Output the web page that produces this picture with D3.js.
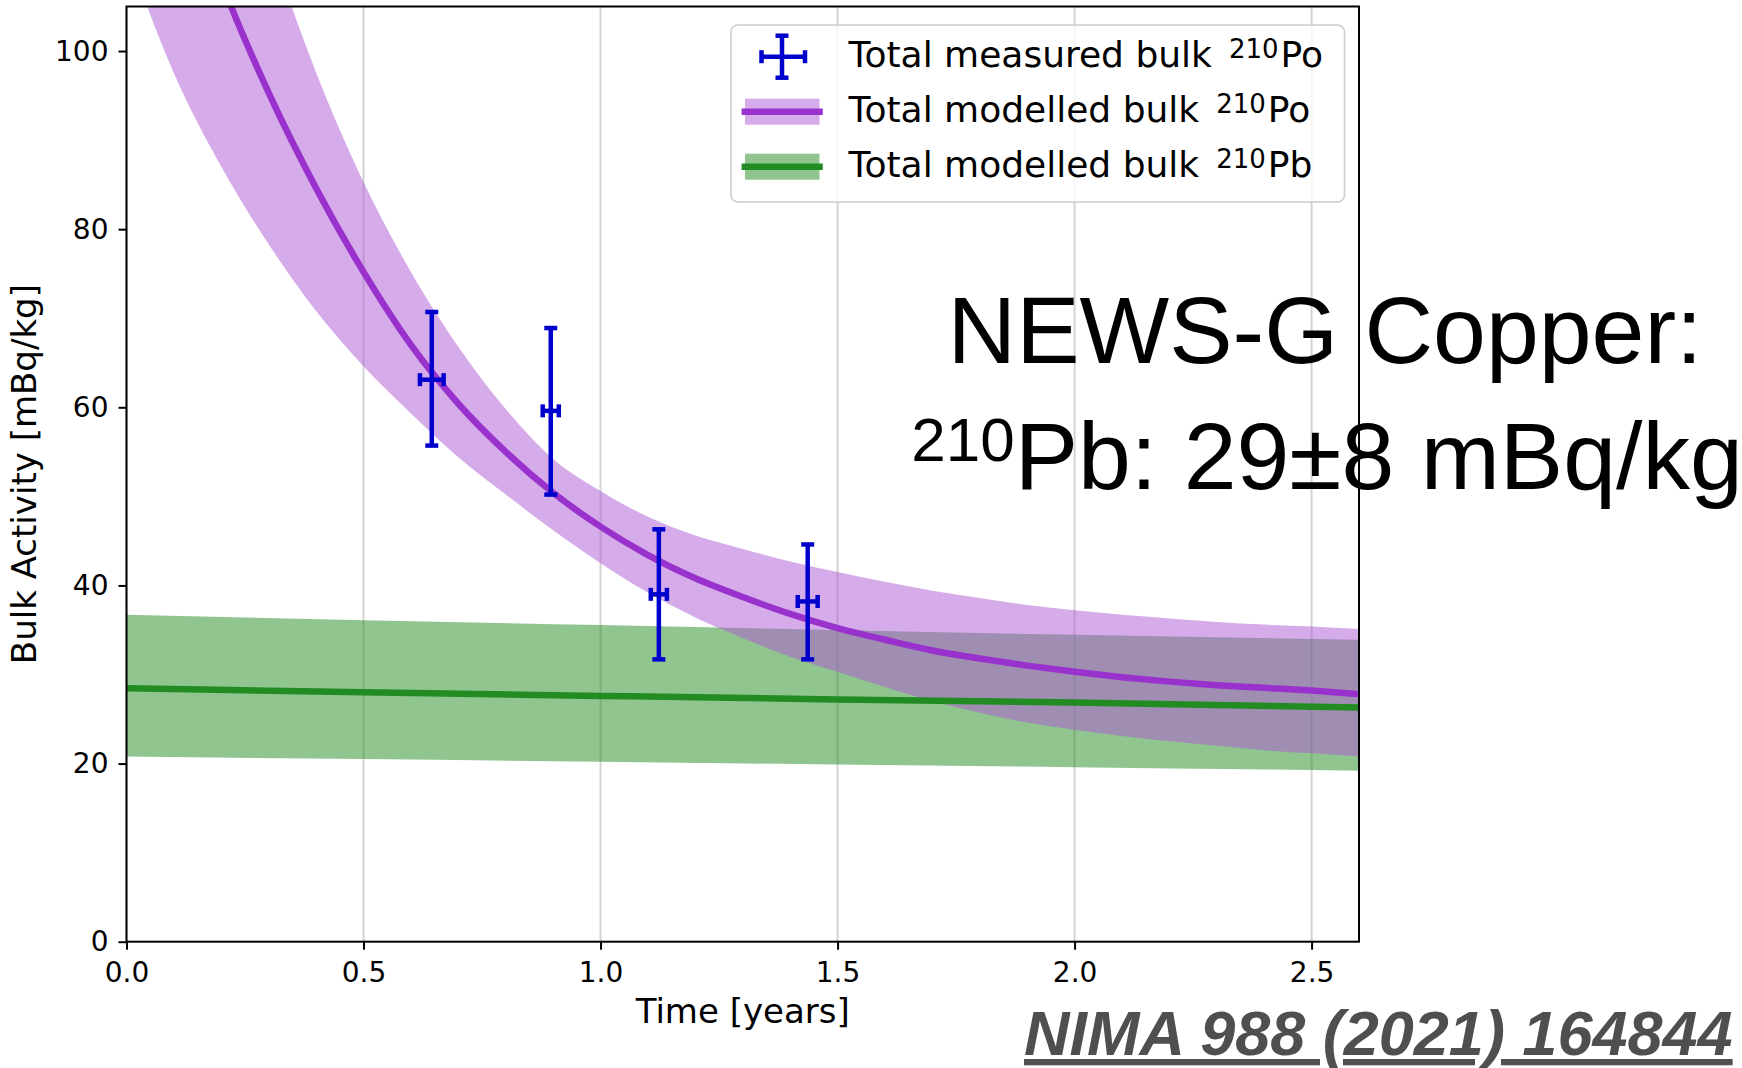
<!DOCTYPE html>
<html>
<head>
<meta charset="utf-8">
<script src="https://cdn.jsdelivr.net/npm/d3@7"></script>
<style>
  body { margin: 0; background: #fff; }
  text { font-family: "DejaVu Sans", sans-serif; }
</style>
</head>
<body>
<div id="container"></div>
<script>
const w = 1742;
const h = 1068;
const p = {left: 126.5, top: 6.5, right: 1359, bottom: 941.7};

// modelled bulk Po-210, every 0.1 year
const modelTime = [0, 0.1, 0.2, 0.3, 0.4, 0.5, 0.6, 0.7, 0.8, 0.9, 1.0, 1.1, 1.2, 1.3,
  1.4, 1.5, 1.6, 1.7, 1.8, 1.9, 2.0, 2.1, 2.2, 2.3, 2.4, 2.5, 2.6];
const poCentral = [142, 123.5, 107.8, 95.3, 84.6, 75.2, 67.0, 60.4, 55.0, 50.4, 46.6, 43.4, 40.8, 38.7,
  36.8, 35.2, 33.9, 32.7, 31.8, 31.0, 30.3, 29.7, 29.2, 28.8, 28.5, 28.2, 27.8];
const poUpper = [177, 151, 130, 112.5, 97.6, 85.3, 75.2, 66.8, 59.8, 54.2, 50.6, 47.7, 45.6, 44.1,
  42.7, 41.5, 40.4, 39.4, 38.6, 37.8, 37.2, 36.7, 36.3, 35.9, 35.6, 35.4, 35.1];
const poLower = [111.3, 97.5, 87.0, 78.3, 70.8, 64.6, 59.3, 54.4, 50.2, 46.2, 42.5, 39.2, 36.4, 34.1,
  32.0, 30.3, 28.6, 27.0, 25.7, 24.6, 23.8, 23.1, 22.5, 22.0, 21.5, 21.15, 20.8];

// modelled bulk Pb-210
const pbTime = [0, 0.5, 1.0, 1.5, 2.0, 2.6];
const pbCentral = [28.45, 28.0, 27.6, 27.2, 26.85, 26.3];
const pbUpper = [36.7, 36.1, 35.55, 35.0, 34.45, 33.9];
const pbLower = [20.8, 20.5, 20.2, 19.9, 19.6, 19.2];

// measured bulk Po-210
const measTime = [0.644, 0.895, 1.123, 1.437];
const measTimeErr = [0.025, 0.017, 0.017, 0.021];
const measValue = [63.1, 59.6, 39.0, 38.2];
const measLow = [55.7, 50.2, 31.7, 31.7];
const measHigh = [70.7, 68.9, 46.3, 44.6];

const xTicks = [0, 0.5, 1.0, 1.5, 2.0, 2.5];
const yTicks = [0, 20, 40, 60, 80, 100];

const legendLabels = ['Total measured bulk', 'Total modelled bulk', 'Total modelled bulk'];
const legendIso = ['Po', 'Po', 'Pb'];

const purple = '#9932cc';
const purpleBand = '#ad57d3';
const green = '#228b22';
const blue = '#0000cd';

const svg = d3.select('#container')
  .append('svg')
  .attr('width', w)
  .attr('height', h)
  .attr('viewBox', [0, 0, w, h]);

const x = d3.scaleLinear().domain([0, 2.6]).range([p.left, p.right]);
const y = d3.scaleLinear().domain([0, 105]).range([p.bottom, p.top]);

svg.append('clipPath')
  .attr('id', 'clip')
  .append('rect')
  .attr('x', p.left)
  .attr('y', p.top)
  .attr('width', p.right - p.left)
  .attr('height', p.bottom - p.top);

// vertical grid
svg.append('g')
  .selectAll('line')
  .data(xTicks)
  .join('line')
    .attr('x1', d => x(d))
    .attr('x2', d => x(d))
    .attr('y1', p.top)
    .attr('y2', p.bottom)
    .attr('stroke', '#d3d3d3')
    .attr('stroke-width', 2);

const plot = svg.append('g').attr('clip-path', 'url(#clip)');

const pb = pbTime.map((t, i) => ({t, c: pbCentral[i], lo: pbLower[i], hi: pbUpper[i]}));
const po = modelTime.map((t, i) => ({t, c: poCentral[i], lo: poLower[i], hi: poUpper[i]}));

const band = d3.area()
  .x(d => x(d.t))
  .y0(d => y(d.lo))
  .y1(d => y(d.hi))
  .curve(d3.curveMonotoneX);

const mid = d3.line()
  .x(d => x(d.t))
  .y(d => y(d.c))
  .curve(d3.curveMonotoneX);

plot.append('path')
  .datum(pb)
  .attr('fill', green)
  .attr('fill-opacity', 0.5)
  .attr('d', band);

plot.append('path')
  .datum(po)
  .attr('fill', purpleBand)
  .attr('fill-opacity', 0.5)
  .attr('d', band);

plot.append('path')
  .datum(pb)
  .attr('fill', 'none')
  .attr('stroke', green)
  .attr('stroke-width', 6.5)
  .attr('d', mid);

plot.append('path')
  .datum(po)
  .attr('fill', 'none')
  .attr('stroke', purple)
  .attr('stroke-width', 6.5)
  .attr('d', mid);

// error bars
const cap = 6.5;
const pts = measTime.map((t, i) => ({t, e: measTimeErr[i], v: measValue[i], lo: measLow[i], hi: measHigh[i]}));
const eb = svg.append('g')
  .attr('stroke', blue)
  .attr('stroke-width', 4.5)
  .selectAll('g')
  .data(pts)
  .join('g');

eb.append('line')
  .attr('x1', d => x(d.t)).attr('x2', d => x(d.t))
  .attr('y1', d => y(d.lo)).attr('y2', d => y(d.hi));
eb.append('line')
  .attr('x1', d => x(d.t - d.e)).attr('x2', d => x(d.t + d.e))
  .attr('y1', d => y(d.v)).attr('y2', d => y(d.v));
[d => d.lo, d => d.hi].forEach(f => {
  eb.append('line')
    .attr('x1', d => x(d.t) - cap).attr('x2', d => x(d.t) + cap)
    .attr('y1', d => y(f(d))).attr('y2', d => y(f(d)));
});
[d => d.t - d.e, d => d.t + d.e].forEach(f => {
  eb.append('line')
    .attr('x1', d => x(f(d))).attr('x2', d => x(f(d)))
    .attr('y1', d => y(d.v) - cap).attr('y2', d => y(d.v) + cap);
});

// axes
const xAxis = d3.axisBottom(x)
  .tickValues(xTicks)
  .tickFormat(d3.format('.1f'))
  .tickSize(8)
  .tickPadding(12);
const yAxis = d3.axisLeft(y)
  .tickValues(yTicks)
  .tickSize(8)
  .tickPadding(10);

const gx = svg.append('g')
  .attr('transform', 'translate(0,' + p.bottom + ')')
  .call(xAxis);
const gy = svg.append('g')
  .attr('transform', 'translate(' + p.left + ',0)')
  .call(yAxis);

[gx, gy].forEach(g => {
  g.select('.domain').remove();
  g.selectAll('line').attr('stroke', '#000').attr('stroke-width', 2);
  g.selectAll('text')
    .attr('fill', '#000')
    .style('font-family', '"DejaVu Sans", sans-serif')
    .style('font-size', '28px');
});

svg.append('rect')
  .attr('x', p.left)
  .attr('y', p.top)
  .attr('width', p.right - p.left)
  .attr('height', p.bottom - p.top)
  .attr('fill', 'none')
  .attr('stroke', '#000')
  .attr('stroke-width', 2);

svg.append('text')
  .attr('x', (p.left + p.right) / 2)
  .attr('y', 1023)
  .attr('text-anchor', 'middle')
  .style('font-size', '34px')
  .text('Time [years]');

svg.append('text')
  .attr('transform', 'translate(36,' + (p.top + p.bottom) / 2 + ') rotate(-90)')
  .attr('text-anchor', 'middle')
  .style('font-size', '34px')
  .text('Bulk Activity [mBq/kg]');

// legend
const legend = svg.append('g')
  .attr('transform', 'translate(731,25)');

legend.append('rect')
  .attr('width', 613.5)
  .attr('height', 177)
  .attr('rx', 7)
  .attr('fill', '#fff')
  .attr('fill-opacity', 0.8)
  .attr('stroke', '#cccccc')
  .attr('stroke-width', 1.5);

const rowY = i => 31.7 + i * 55;

const lh = legend.append('g').attr('stroke', blue).attr('stroke-width', 4.5);
lh.append('line').attr('x1', 30.5).attr('x2', 74).attr('y1', rowY(0)).attr('y2', rowY(0));
lh.append('line').attr('x1', 51).attr('x2', 51).attr('y1', rowY(0) - 21).attr('y2', rowY(0) + 21);
lh.append('line').attr('x1', 44.5).attr('x2', 57.5).attr('y1', rowY(0) - 21).attr('y2', rowY(0) - 21);
lh.append('line').attr('x1', 44.5).attr('x2', 57.5).attr('y1', rowY(0) + 21).attr('y2', rowY(0) + 21);
lh.append('line').attr('x1', 30.5).attr('x2', 30.5).attr('y1', rowY(0) - 6.5).attr('y2', rowY(0) + 6.5);
lh.append('line').attr('x1', 74).attr('x2', 74).attr('y1', rowY(0) - 6.5).attr('y2', rowY(0) + 6.5);

[[purpleBand, purple], [green, green]].forEach((c, k) => {
  const i = k + 1;
  legend.append('rect')
    .attr('x', 14).attr('y', rowY(i) - 13)
    .attr('width', 74.5).attr('height', 26)
    .attr('fill', c[0]).attr('fill-opacity', 0.5);
  legend.append('line')
    .attr('x1', 10.6).attr('x2', 91.8)
    .attr('y1', rowY(i)).attr('y2', rowY(i))
    .attr('stroke', c[1]).attr('stroke-width', 6.5);
});

const lt = legend.selectAll('text.lab')
  .data(legendLabels)
  .join('text')
    .attr('class', 'lab')
    .attr('x', 117.6)
    .attr('y', (d, i) => rowY(i) + 10)
    .style('font-size', '36px');
lt.append('tspan').text(d => d);
lt.append('tspan').attr('dx', 17).attr('dy', -9).style('font-size', '26px').text('210');
lt.append('tspan').attr('dx', 2).attr('dy', 9).text((d, i) => legendIso[i]);

// annotation
svg.append('text')
  .attr('x', 1325)
  .attr('y', 363.3)
  .attr('text-anchor', 'middle')
  .style('font-family', '"Liberation Sans", Arial, sans-serif')
  .style('font-size', '95px')
  .text('NEWS-G Copper:');

const big = svg.append('text')
  .attr('x', 1327)
  .attr('y', 489.3)
  .attr('text-anchor', 'middle')
  .style('font-family', '"Liberation Sans", Arial, sans-serif')
  .style('font-size', '95px');
big.append('tspan').attr('dy', -28).style('font-size', '62px').text('210');
big.append('tspan').attr('dy', 28).text('Pb: 29±8 mBq/kg');

svg.append('text')
  .attr('x', 1024)
  .attr('y', 1055)
  .attr('fill', '#4f4f4f')
  .style('font-family', '"Liberation Sans", Arial, sans-serif')
  .style('font-size', '63px')
  .style('font-weight', 'bold')
  .style('font-style', 'italic')
  .style('text-decoration', 'underline')
  .text('NIMA 988 (2021) 164844');
</script>
</body>
</html>
